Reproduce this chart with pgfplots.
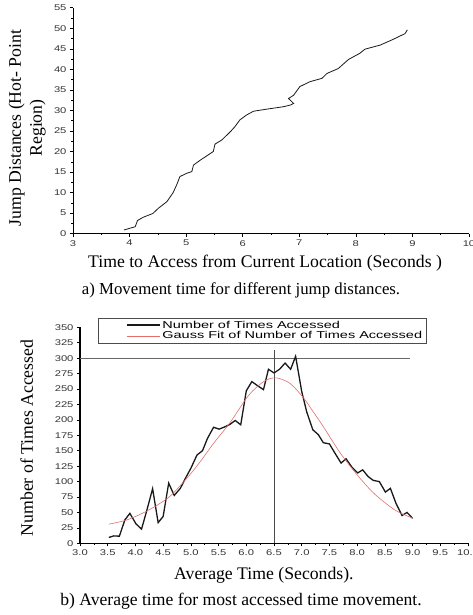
\documentclass[border=0pt]{standalone}
\usepackage{fontspec}
\setmainfont{Liberation Serif}
\newfontfamily\tsans[FakeStretch=1.35]{Liberation Sans}
\newfontfamily\lsans[FakeStretch=1.45]{Liberation Sans}
\usepackage{pgfplots}
\pgfplotsset{compat=1.18}
\definecolor{fitred}{RGB}{226,110,110}
\pgfplotsset{
  mystyle/.style={
    scale only axis,
    axis lines=left,
    axis line style={-, black},
    tick align=outside,
    major tick length=3pt,
    minor tick length=1.5pt,
    tick style={black, line width=0.5pt},
    ticklabel style={font=\tsans\fontsize{8.3}{8.3}\selectfont, text=black!80},
    /pgf/number format/assume math mode=true,
    label style={font=\fontsize{17.7}{21}\selectfont},
    clip=false,
  }
}
\begin{document}
\begin{tikzpicture}
\useasboundingbox (0,0) rectangle (472pt,615pt);
% ---------- top chart ----------
\begin{axis}[mystyle,
  at={(73pt,381.3pt)}, anchor=south west,
  width=396pt, height=226pt,
  xmin=3, xmax=10, ymin=0, ymax=55,
  xtick={3,4,...,10}, ytick={0,5,...,55},
  minor x tick num=1, minor y tick num=1,
  xlabel={Time to Access from Current Location (Seconds )},
  ylabel={Jump Distances (Hot- Point\\Region)},
  xlabel style={at={(axis description cs:0.485,-0.13)}, anchor=center},
  ylabel style={at={(axis description cs:-0.116,0.468)}, anchor=center, align=center, rotate=0},
]
\addplot[black!90, line width=0.8pt] coordinates {
(3.90,0.9) (4.10,1.7) (4.14,3.2) (4.24,4.0) (4.41,4.9) (4.51,6.2) (4.66,7.8)
(4.77,10.0) (4.83,11.8) (4.89,13.9) (5.01,14.7) (5.10,15.1) (5.13,16.7)
(5.25,17.9) (5.36,18.9) (5.48,20.0) (5.51,21.8) (5.63,22.8) (5.78,24.8)
(5.86,26.0) (5.95,27.7) (6.07,28.9) (6.19,29.8) (6.42,30.3) (6.72,30.9)
(6.84,31.3) (6.90,31.7) (6.81,32.9) (6.90,33.7) (7.01,35.8) (7.19,37.0)
(7.40,37.8) (7.49,39.0) (7.69,40.2) (7.87,42.4) (8.07,43.9) (8.16,44.9)
(8.43,45.9) (8.66,47.3) (8.87,48.7) (8.91,49.6)
};
\end{axis}
\node[font=\fontsize{16.8}{19}\selectfont] at (241pt,325pt) {a) Movement time for different jump distances.};
% ---------- bottom chart ----------
\begin{axis}[mystyle,
  at={(80pt,71.7pt)}, anchor=south west,
  width=388pt, height=216pt,
  xmin=3, xmax=10, ymin=0, ymax=350,
  xtick={3,3.5,...,10}, ytick={0,25,...,350},
  minor x tick num=1,
  x tick label style={/pgf/number format/.cd, fixed, fixed zerofill, precision=1},
  y axis line style={line width=2.2pt},
  xlabel={Average Time (Seconds).},
  ylabel={Number of Times Accessed},
  xlabel style={at={(axis description cs:0.474,-0.147)}, anchor=center},
  ylabel style={at={(axis description cs:-0.137,0.4875)}, anchor=center},
  legend style={at={(axis description cs:0.046,1.043)}, anchor=north west,
    draw=black!70, line width=0.5pt, font=\lsans\fontsize{10}{10}\selectfont,
    inner xsep=2pt, inner ysep=0.5pt, row sep=-1.8pt},
  legend cell align=left,
  legend image code/.code={\path (-26pt,0pt); \draw[#1] (0pt,0pt) -- (33pt,0pt);},
]
\addplot[black!60, line width=0.5pt, forget plot] coordinates {(3,300) (8.96,300)};
\addplot[black!70, line width=0.5pt, forget plot] coordinates {(6.5,0) (6.5,314)};
\addplot[black!90, line width=1.3pt] coordinates {
(3.52,9.5) (3.61,12) (3.71,11.5) (3.81,38) (3.90,48.5) (4.01,31.5) (4.11,23)
(4.20,51.5) (4.31,88.5) (4.41,33.5) (4.50,43.5) (4.60,97.5) (4.70,77.5)
(4.81,89) (4.90,105) (5.00,121.5) (5.11,143) (5.21,150) (5.30,170) (5.41,188)
(5.51,185) (5.62,189) (5.71,193) (5.80,199) (5.90,192) (6.00,247) (6.10,262)
(6.21,255) (6.31,249) (6.40,282) (6.50,276) (6.60,282) (6.70,292) (6.80,282)
(6.89,303) (7.00,246) (7.09,213) (7.20,184) (7.30,176) (7.39,163) (7.50,161)
(7.60,146) (7.71,130) (7.80,137) (7.90,124) (8.01,114) (8.10,119) (8.20,108)
(8.29,102) (8.40,100) (8.51,83) (8.60,89) (8.70,65) (8.81,45) (8.90,50) (9.00,40.5)
};
\addlegendentry{Number of Times Accessed}
\addplot[fitred, line width=0.6pt, smooth] coordinates {
(3.52,31) (3.85,38) (4.2,52) (4.5,68) (4.68,81) (4.99,112) (5.2,136) (5.41,162)
(5.71,196) (6.01,236) (6.2,254) (6.37,265) (6.55,268) (6.79,259) (7.03,236)
(7.2,214) (7.39,189) (7.69,147) (7.99,112) (8.29,82) (8.6,59) (8.78,49) (9.0,41)
};
\addlegendentry{Gauss Fit of Number of Times Accessed\hspace{17pt}}
\end{axis}
\node[font=\fontsize{17.6}{20}\selectfont] at (241pt,13.3pt) {b) Average time for most accessed time movement.};
\end{tikzpicture}
\end{document}
